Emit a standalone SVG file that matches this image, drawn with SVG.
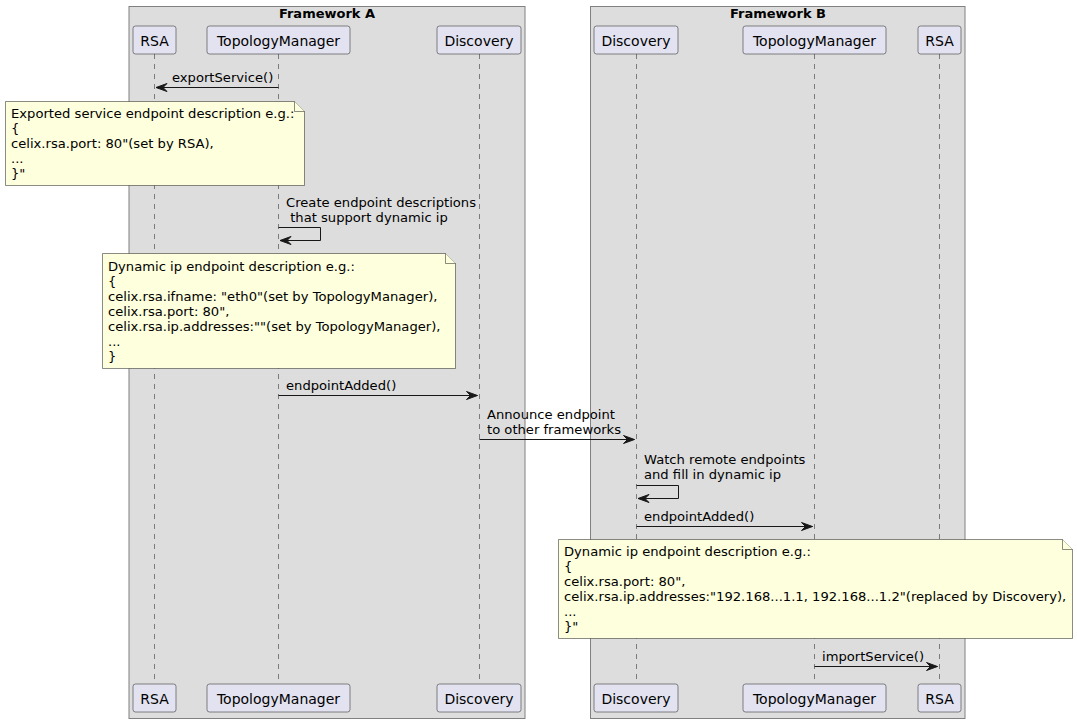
<svg xmlns="http://www.w3.org/2000/svg" width="1077" height="723" viewBox="0 0 1077 723">
<defs>
<style>
text{font-family:"DejaVu Sans",Verdana,sans-serif;fill:#000;}
.msg{font-size:13.13px;}
.pt{font-size:14px;}
.ttl{font-size:13px;font-weight:bold;}
.frame{fill:#DDDDDD;stroke:#808080;stroke-width:1;}
.part{fill:#E2E2F0;stroke:#181818;stroke-width:0.5;}
.life{stroke:#181818;stroke-width:0.5;stroke-dasharray:5,5;fill:none;}
.note{fill:#FEFFDD;stroke:#181818;stroke-width:0.5;}
.arr{stroke:#181818;stroke-width:1;fill:none;}
</style>
<marker id="ah" viewBox="-1 -1 13 10" refX="11" refY="4" markerWidth="13" markerHeight="10" markerUnits="userSpaceOnUse" orient="auto">
<polygon points="0,0 11,4 0,8 4,4" fill="#181818" stroke="#181818" stroke-width="1" stroke-linejoin="round"/>
</marker>
</defs>
<rect width="1077" height="723" fill="#FFFFFF"/>
<g id="frameA">
<rect class="frame" x="129" y="6.5" width="396" height="712"/>
<text class="ttl" x="327" y="18" text-anchor="middle">Framework A</text>
</g>
<g id="frameB">
<rect class="frame" x="590.5" y="6.5" width="374.5" height="712"/>
<text class="ttl" x="778" y="18" text-anchor="middle">Framework B</text>
</g>
<g id="lifelines">
<line class="life" x1="154.5" y1="54" x2="154.5" y2="684"/>
<line class="life" x1="278.5" y1="54" x2="278.5" y2="684"/>
<line class="life" x1="479.5" y1="54" x2="479.5" y2="684"/>
<line class="life" x1="636.5" y1="54" x2="636.5" y2="684"/>
<line class="life" x1="814.5" y1="54" x2="814.5" y2="684"/>
<line class="life" x1="939.5" y1="54" x2="939.5" y2="684"/>
</g>
<g id="rsaA">
<rect class="part" x="133" y="26" width="43" height="28" rx="2.5"/>
<text class="pt" x="154.5" y="45.5" text-anchor="middle">RSA</text>
<rect class="part" x="133" y="684" width="43" height="28" rx="2.5"/>
<text class="pt" x="154.5" y="703.5" text-anchor="middle">RSA</text>
</g>
<g id="tmA">
<rect class="part" x="207" y="26" width="143" height="28" rx="2.5"/>
<text class="pt" x="278.5" y="45.5" text-anchor="middle">TopologyManager</text>
<rect class="part" x="207" y="684" width="143" height="28" rx="2.5"/>
<text class="pt" x="278.5" y="703.5" text-anchor="middle">TopologyManager</text>
</g>
<g id="discA">
<rect class="part" x="437" y="26" width="84" height="28" rx="2.5"/>
<text class="pt" x="479" y="45.5" text-anchor="middle">Discovery</text>
<rect class="part" x="437" y="684" width="84" height="28" rx="2.5"/>
<text class="pt" x="479" y="703.5" text-anchor="middle">Discovery</text>
</g>
<g id="discB">
<rect class="part" x="594" y="26" width="84" height="28" rx="2.5"/>
<text class="pt" x="636" y="45.5" text-anchor="middle">Discovery</text>
<rect class="part" x="594" y="684" width="84" height="28" rx="2.5"/>
<text class="pt" x="636" y="703.5" text-anchor="middle">Discovery</text>
</g>
<g id="tmB">
<rect class="part" x="743" y="26" width="143" height="28" rx="2.5"/>
<text class="pt" x="814.5" y="45.5" text-anchor="middle">TopologyManager</text>
<rect class="part" x="743" y="684" width="143" height="28" rx="2.5"/>
<text class="pt" x="814.5" y="703.5" text-anchor="middle">TopologyManager</text>
</g>
<g id="rsaB">
<rect class="part" x="918" y="26" width="43" height="28" rx="2.5"/>
<text class="pt" x="939.5" y="45.5" text-anchor="middle">RSA</text>
<rect class="part" x="918" y="684" width="43" height="28" rx="2.5"/>
<text class="pt" x="939.5" y="703.5" text-anchor="middle">RSA</text>
</g>
<g id="connectors">
<line class="arr" x1="278.5" y1="87.5" x2="156" y2="87.5" marker-end="url(#ah)"/>
<text class="msg" x="172" y="82">exportService()</text>
<polyline class="arr" points="278.5,227.5 320.5,227.5 320.5,240.5 280,240.5" marker-end="url(#ah)"/>
<text class="msg" x="286" y="207">Create endpoint descriptions</text>
<text class="msg" x="286" y="222" xml:space="preserve"> that support dynamic ip</text>
<line class="arr" x1="278.5" y1="395.5" x2="477.5" y2="395.5" marker-end="url(#ah)"/>
<text class="msg" x="286" y="390">endpointAdded()</text>
<line class="arr" x1="479.5" y1="439.5" x2="634.5" y2="439.5" marker-end="url(#ah)"/>
<text class="msg" x="487" y="419">Announce endpoint</text>
<text class="msg" x="487" y="434">to other frameworks</text>
<polyline class="arr" points="636.5,485.5 678.5,485.5 678.5,498.5 638,498.5" marker-end="url(#ah)"/>
<text class="msg" x="644" y="464">Watch remote endpoints</text>
<text class="msg" x="644" y="479">and fill in dynamic ip</text>
<line class="arr" x1="636.5" y1="526.5" x2="812.5" y2="526.5" marker-end="url(#ah)"/>
<text class="msg" x="644" y="521">endpointAdded()</text>
<line class="arr" x1="814.5" y1="666.5" x2="937.5" y2="666.5" marker-end="url(#ah)"/>
<text class="msg" x="822" y="661">importService()</text>
</g>
<g id="note1">
<path class="note" d="M5.5,101.5 L294.5,101.5 L304.5,111.5 L304.5,185.5 L5.5,185.5 Z"/>
<path class="note" d="M294.5,101.5 L294.5,111.5 L304.5,111.5" fill="none"/>
<text class="msg" x="11" y="118">Exported service endpoint description e.g.:</text>
<text class="msg" x="11" y="133">{</text>
<text class="msg" x="11" y="148">celix.rsa.port: 80"(set by RSA),</text>
<text class="msg" x="11" y="163">...</text>
<text class="msg" x="11" y="178">}"</text>
</g>
<g id="note2">
<path class="note" d="M102.5,253.5 L445.5,253.5 L455.5,263.5 L455.5,368.5 L102.5,368.5 Z"/>
<path class="note" d="M445.5,253.5 L445.5,263.5 L455.5,263.5" fill="none"/>
<text class="msg" x="108" y="271">Dynamic ip endpoint description e.g.:</text>
<text class="msg" x="108" y="286">{</text>
<text class="msg" x="108" y="301">celix.rsa.ifname: "eth0"(set by TopologyManager),</text>
<text class="msg" x="108" y="316">celix.rsa.port: 80",</text>
<text class="msg" x="108" y="331">celix.rsa.ip.addresses:""(set by TopologyManager),</text>
<text class="msg" x="108" y="346">...</text>
<text class="msg" x="108" y="361">}</text>
</g>
<g id="note3">
<path class="note" d="M558.5,539.5 L1062.5,539.5 L1072.5,549.5 L1072.5,638.5 L558.5,638.5 Z"/>
<path class="note" d="M1062.5,539.5 L1062.5,549.5 L1072.5,549.5" fill="none"/>
<text class="msg" x="564" y="556">Dynamic ip endpoint description e.g.:</text>
<text class="msg" x="564" y="571">{</text>
<text class="msg" x="564" y="586">celix.rsa.port: 80",</text>
<text class="msg" x="564" y="601">celix.rsa.ip.addresses:"192.168...1.1, 192.168...1.2"(replaced by Discovery),</text>
<text class="msg" x="564" y="616">...</text>
<text class="msg" x="564" y="631">}"</text>
</g>
</svg>
